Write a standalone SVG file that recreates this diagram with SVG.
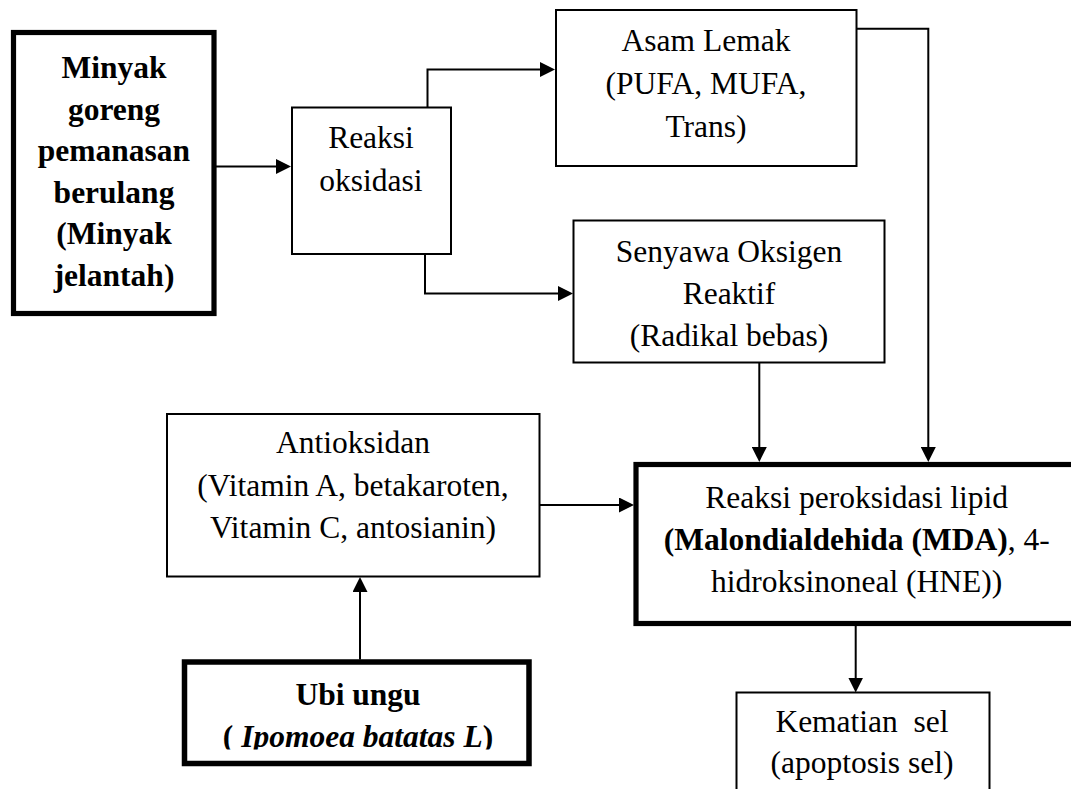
<svg xmlns="http://www.w3.org/2000/svg" width="1071" height="789" viewBox="0 0 1071 789">
<style>
  .box { fill: #fff; stroke: #000; stroke-width: 2; }
  .thick { fill: #fff; stroke: #000; stroke-width: 5.2; }
  .t { font-family: "Liberation Serif", "Times New Roman", serif; font-size: 31.5px; fill: #000; text-anchor: middle; }
  .b { font-weight: bold; }
  .conn { fill: none; stroke: #000; stroke-width: 2; marker-end: url(#arr); }
</style>
<defs>
  <marker id="arr" viewBox="0 0 15 15" refX="12" refY="7.5" markerWidth="15" markerHeight="15" markerUnits="userSpaceOnUse" orient="auto">
    <path d="M0,0 L15,7.5 L0,15 Z" fill="#000"/>
  </marker>
  <clipPath id="ubiClip"><rect x="0" y="640" width="560" height="109.5"/></clipPath>
</defs>
<rect width="1071" height="789" fill="#fff"/>

<g id="connectors">
  <path class="conn" d="M216,166.5 H288"/>
  <path class="conn" d="M427.5,107 V69.5 H552"/>
  <path class="conn" d="M425,254 V293.5 H570"/>
  <path class="conn" d="M856,28.8 H928.3 V459"/>
  <path class="conn" d="M759.3,362.5 V459"/>
  <path class="conn" d="M539,505 H631"/>
  <path class="conn" d="M360,659.5 V580"/>
  <path class="conn" d="M855.7,626 V689.5"/>
</g>

<g id="minyak">
  <rect class="thick" x="13.5" y="32.5" width="200.5" height="281"/>
  <text class="t b" x="114" y="78.3">Minyak</text>
  <text class="t b" x="114" y="119.5">goreng</text>
  <text class="t b" x="114" y="161">pemanasan</text>
  <text class="t b" x="114" y="202.5">berulang</text>
  <text class="t b" x="114" y="244">(Minyak</text>
  <text class="t b" x="114" y="286">jelantah)</text>
</g>

<g id="reaksi-oksidasi">
  <rect class="box" x="292" y="107.5" width="159" height="146.5"/>
  <text class="t" x="371" y="147.7">Reaksi</text>
  <text class="t" x="371" y="190.5">oksidasi</text>
</g>

<g id="asam-lemak">
  <rect class="box" x="556" y="10" width="300.5" height="156"/>
  <text class="t" x="706" y="51">Asam Lemak</text>
  <text class="t" x="706" y="94">(PUFA, MUFA,</text>
  <text class="t" x="706" y="136.5">Trans)</text>
</g>

<g id="senyawa">
  <rect class="box" x="573.5" y="220.5" width="311" height="142"/>
  <text class="t" x="729" y="261.5">Senyawa Oksigen</text>
  <text class="t" x="729" y="303.5">Reaktif</text>
  <text class="t" x="729" y="345.5">(Radikal bebas)</text>
</g>

<g id="antioksidan">
  <rect class="box" x="167" y="414" width="372.5" height="162.5"/>
  <text class="t" x="353" y="453.3">Antioksidan</text>
  <text class="t" x="353" y="495.8">(Vitamin A, betakaroten,</text>
  <text class="t" x="353" y="538.3">Vitamin C, antosianin)</text>
</g>

<g id="peroksidasi">
  <rect class="thick" x="636" y="464.5" width="442" height="159"/>
  <text class="t" x="856.7" y="508.3">Reaksi peroksidasi lipid</text>
  <text class="t" x="856.7" y="550"><tspan class="b">(Malondialdehida (MDA)</tspan>, 4-</text>
  <text class="t" x="856.7" y="592.3">hidroksinoneal (HNE))</text>
</g>

<g id="ubi-ungu">
  <rect class="thick" x="184.5" y="662" width="344.5" height="101.5" style="stroke-width:5.5"/>
  <text class="t b" x="358" y="704.5">Ubi ungu</text>
  <g clip-path="url(#ubiClip)">
    <text class="t b" x="358" y="746.7">( <tspan font-style="italic">Ipomoea batatas L</tspan>)</text>
  </g>
</g>

<g id="kematian">
  <rect class="box" x="736.5" y="692.5" width="253" height="120"/>
  <text class="t" x="862" y="731.7" style="white-space:pre">Kematian  sel</text>
  <text class="t" x="862" y="773.3">(apoptosis sel)</text>
</g>
</svg>
